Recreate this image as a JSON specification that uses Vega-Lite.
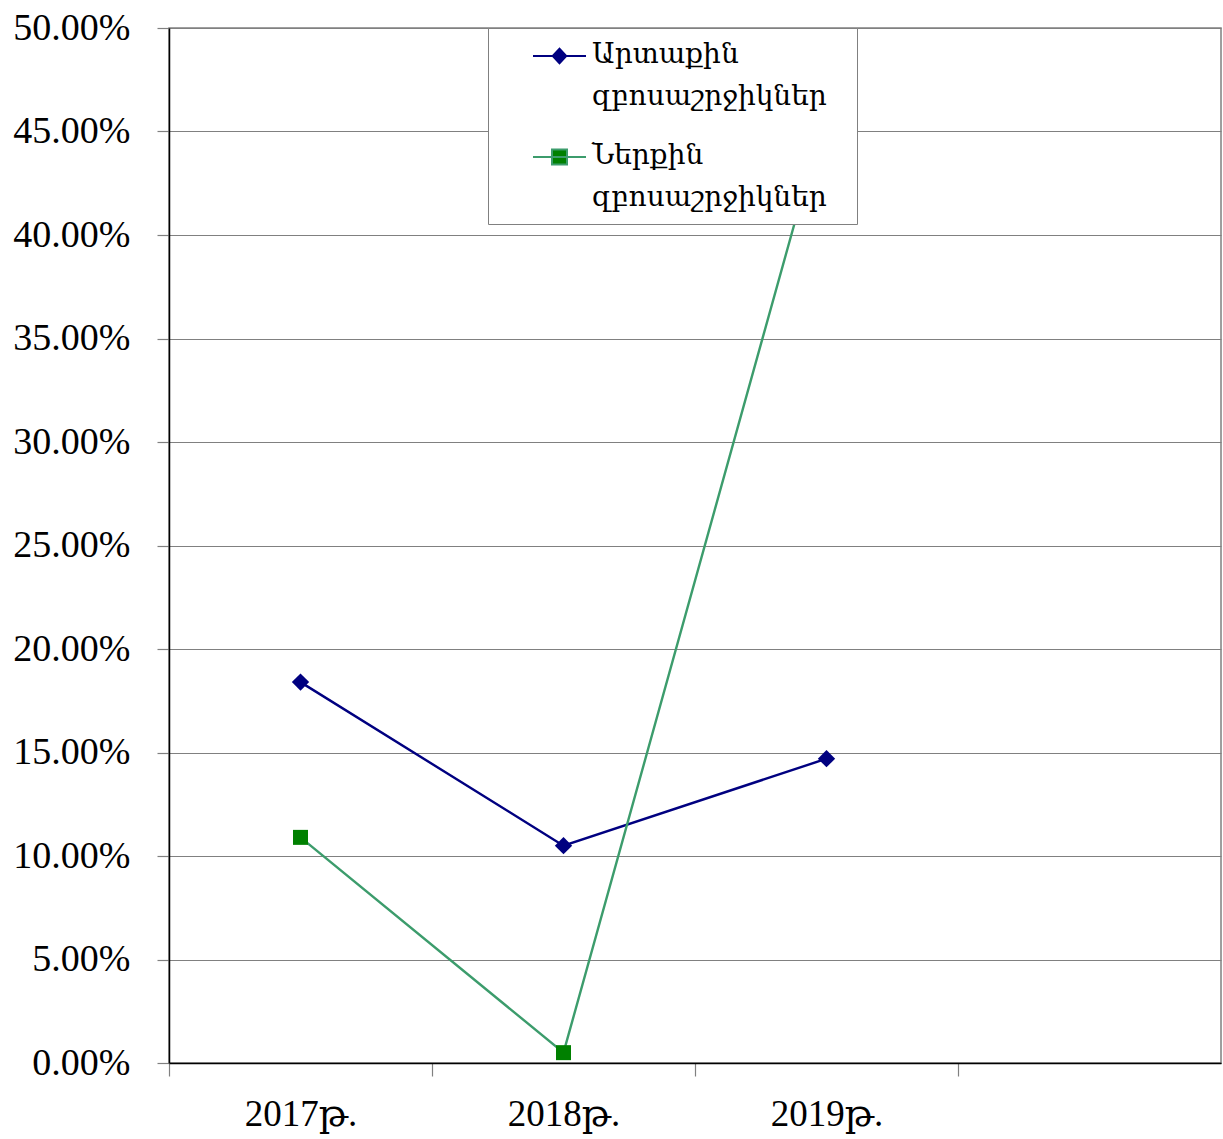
{
  "$schema": "https://vega.github.io/schema/vega-lite/v6.json",
  "width": 1052,
  "height": 1035,
  "autosize": {"type": "none"},
  "padding": {"left": 169, "top": 28, "right": 2, "bottom": 76},
  "background": "white",
  "config": {
    "view": {"stroke": "#808080", "strokeWidth": 1.5}
  },
  "data": {
    "values": [
      {"year": "2017թ.", "series": "Արտաքին զբոսաշրջիկներ", "value": 0.184},
      {"year": "2018թ.", "series": "Արտաքին զբոսաշրջիկներ", "value": 0.105},
      {"year": "2019թ.", "series": "Արտաքին զբոսաշրջիկներ", "value": 0.147},
      {"year": "2017թ.", "series": "Ներքին զբոսաշրջիկներ", "value": 0.109},
      {"year": "2018թ.", "series": "Ներքին զբոսաշրջիկներ", "value": 0.005},
      {"year": "2019թ.", "series": "Ներքին զբոսաշրջիկներ", "value": 0.461}
    ]
  },
  "encoding": {
    "x": {
      "field": "year",
      "type": "nominal",
      "sort": null,
      "scale": {"type": "point", "domain": ["2017թ.", "2018թ.", "2019թ.", ""], "padding": 0.5},
      "axis": {
        "title": null,
        "grid": false,
        "labelAngle": 0,
        "labelFont": "Liberation Serif, DejaVu Serif",
        "labelFontSize": 37,
        "labelColor": "black",
        "tickColor": "#808080",
        "tickWidth": 1.2,
        "tickSize": 13,
        "tickOffset": -131.5,
        "labelOffset": 131.5,
        "labelPadding": 20,
        "domainColor": "black",
        "domainWidth": 1.5
      }
    },
    "y": {
      "field": "value",
      "type": "quantitative",
      "scale": {"domain": [0, 0.5], "nice": false},
      "axis": {
        "title": null,
        "values": [0, 0.05, 0.1, 0.15, 0.2, 0.25, 0.3, 0.35, 0.4, 0.45, 0.5],
        "format": ".2%",
        "labelFont": "Liberation Serif, DejaVu Serif",
        "labelFontSize": 38,
        "labelColor": "black",
        "tickColor": "#808080",
        "tickWidth": 1.2,
        "tickSize": 12,
        "labelPadding": 27,
        "domainColor": "black",
        "domainWidth": 1.5,
        "grid": true,
        "gridColor": "#808080",
        "gridWidth": 1.2
      }
    }
  },
  "layer": [
    {
      "mark": {"type": "line", "strokeWidth": 2.4},
      "encoding": {
        "color": {
          "field": "series",
          "type": "nominal",
          "sort": null,
          "scale": {
            "domain": ["Արտաքին զբոսաշրջիկներ", "Ներքին զբոսաշրջիկներ"],
            "range": ["#000080", "#3c9c6c"]
          },
          "legend": {
            "title": null,
            "orient": "none",
            "legendX": 319,
            "legendY": 0,
            "fillColor": "white",
            "strokeColor": "#808080",
            "padding": 12,
            "symbolOffset": 43.5,
            "symbolSize": 900,
            "symbolStrokeWidth": 2,
            "labelOffset": 16.5,
            "labelFont": "DejaVu Serif",
            "labelFontSize": 28,
            "labelColor": "black",
            "labelLimit": 500,
            "labelBaseline": "top",
            "rowPadding": 30,
            "labelExpr": "[split(datum.label, ' ')[0], split(datum.label, ' ')[1] + '\u00a0\u00a0\u200b']",
            "encode": {
              "labels": {
                "update": {
                  "dy": {"value": -15},
                  "lineHeight": {"value": 42}
                }
              },
              "symbols": {
                "update": {
                  "shape": {"signal": "datum.value === 'Արտաքին զբոսաշրջիկներ' ? 'M-1.767,0H1.767M-0.45,0L0,-0.48L0.45,0L0,0.48Z' : 'M-1.767,0H1.767M-0.5,-0.5H0.5V0.5H-0.5Z'"},
                  "fill": {"signal": "datum.value === 'Արտաքին զբոսաշրջիկներ' ? '#000080' : '#008000'"},
                  "stroke": {"signal": "datum.value === 'Արտաքին զբոսաշրջիկներ' ? '#000080' : '#3c9c6c'"},
                  "strokeWidth": {"value": 2},
                  "size": {"value": 900}
                }
              }
            }
          }
        }
      }
    },
    {
      "transform": [{"filter": "datum.series === 'Արտաքին զբոսաշրջիկներ'"}],
      "mark": {"type": "point", "filled": true, "opacity": 1, "shape": "diamond", "size": 300, "color": "#000080"}
    },
    {
      "transform": [{"filter": "datum.series === 'Ներքին զբոսաշրջիկներ'"}],
      "mark": {"type": "point", "filled": true, "opacity": 1, "shape": "square", "size": 225, "color": "#008000"}
    }
  ]
}
